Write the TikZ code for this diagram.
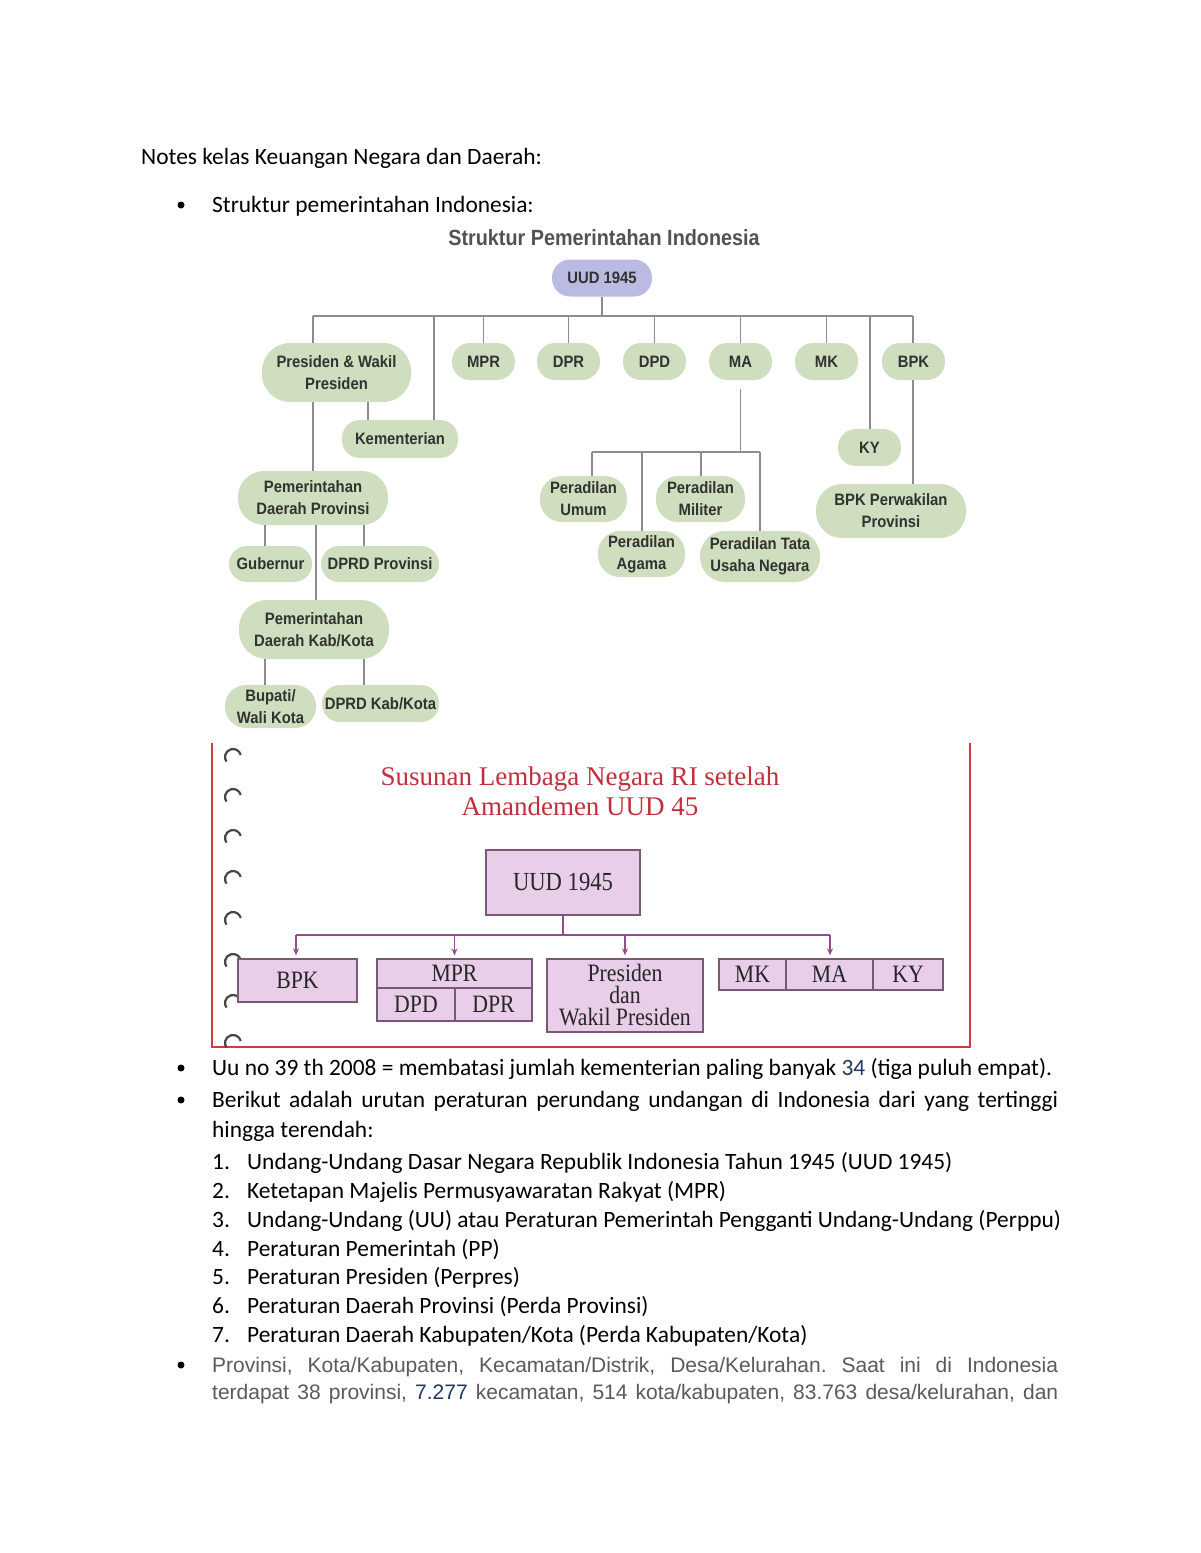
\documentclass[tikz,border=0pt]{standalone}
\usepackage{fontspec}
\usetikzlibrary{arrows.meta}
\setmainfont{Carlito}
\newfontfamily\rob[FakeStretch=0.9]{Liberation Sans}
\newfontfamily\ari{Liberation Sans}
\newfontfamily\tms{Liberation Serif}
\newfontfamily\tmsc[FakeStretch=0.87]{Liberation Serif}
\frenchspacing
\definecolor{gfill}{RGB}{207,222,190}
\definecolor{gtext}{RGB}{50,50,50}
\definecolor{lav}{RGB}{187,186,226}
\definecolor{lineg}{RGB}{140,140,140}
\definecolor{pfill}{RGB}{232,206,232}
\definecolor{pborder}{RGB}{120,90,120}
\definecolor{parrow}{RGB}{140,80,140}
\definecolor{redtitle}{RGB}{192,48,60}
\definecolor{framered}{RGB}{210,60,60}
\definecolor{graytext}{RGB}{90,90,90}
\definecolor{numblue}{RGB}{31,56,100}
\definecolor{ringc}{RGB}{70,70,70}
\tikzset{
  body/.style={anchor=base west, inner sep=0pt, font=\fontsize{23.4}{29}\selectfont},
  grayb/.style={anchor=base west, inner sep=0pt, text=graytext, font=\ari\fontsize{21}{27}\selectfont},
  bul/.style={circle, fill=black, inner sep=0pt, minimum size=7},
  gn/.style={rectangle, fill=gfill, text=gtext, align=center, inner sep=0pt,
    font=\rob\bfseries\fontsize{16.5}{22}\selectfont, rounded corners=18},
  conn/.style={draw=lineg, line width=1.4},
  pbox/.style={rectangle, draw=pborder, fill=pfill, line width=1.3, inner sep=0pt,
    align=center, text=black!85, font=\tmsc\fontsize{25}{22}\selectfont},
  pline/.style={draw=parrow, line width=1.4},
  parr/.style={draw=parrow, line width=1.4, -{Stealth[length=7,width=6]}, shorten >=3},
  ring/.style={draw=ringc, line width=2.2},
}
\begin{document}
\begin{tikzpicture}[x=1pt,y=-1pt]
\useasboundingbox (0,0) rectangle (1200,1553);
\fill[white] (0,0) rectangle (1200,1553);

% ---------- heading text ----------
\node[body] (t1) at (141,164) {Notes kelas Keuangan Negara dan Daerah:};
\node[bul] (b1) at (181,205) {};
\node[body] (t2) at (212,212) {Struktur pemerintahan Indonesia:};

% ---------- diagram 1 ----------
\node[inner sep=0pt, text=black!68, font=\rob\bfseries\fontsize{22}{26}\selectfont] (ttl1) at (604,238) {Struktur Pemerintahan Indonesia};

\node[gn, fill=lav, minimum width=100, minimum height=37] (uud) at (602,278) {UUD 1945};
\node[gn, minimum width=149, minimum height=59, rounded corners=28] (pres) at (336.5,372.5) {Presiden \& Wakil\\Presiden};
\node[gn, minimum width=63, minimum height=37] (mpr) at (483.5,361.5) {MPR};
\node[gn, minimum width=63, minimum height=37] (dpr) at (568.5,361.5) {DPR};
\node[gn, minimum width=63, minimum height=37] (dpd) at (654.5,361.5) {DPD};
\node[gn, minimum width=63, minimum height=37] (ma) at (740.5,361.5) {MA};
\node[gn, minimum width=63, minimum height=37] (mk) at (826.5,361.5) {MK};
\node[gn, minimum width=63, minimum height=37] (bpk) at (913.5,361.5) {BPK};
\node[gn, minimum width=116, minimum height=38] (kem) at (400,439) {Kementerian};
\node[gn, minimum width=150, minimum height=54, rounded corners=26] (pdp) at (313,498) {Pemerintahan\\Daerah Provinsi};
\node[gn, minimum width=83, minimum height=36] (gub) at (270.5,564) {Gubernur};
\node[gn, minimum width=118, minimum height=36] (dprdp) at (380,564) {DPRD Provinsi};
\node[gn, minimum width=150, minimum height=59, rounded corners=28] (pdk) at (314,629.5) {Pemerintahan\\Daerah Kab/Kota};
\node[gn, minimum width=91, minimum height=43, rounded corners=21] (bup) at (270.5,706.5) {Bupati/\\Wali Kota};
\node[gn, minimum width=117, minimum height=37] (dprdk) at (380.5,703.5) {DPRD Kab/Kota};
\node[gn, minimum width=87, minimum height=46, rounded corners=22] (pu) at (583.5,499) {Peradilan\\Umum};
\node[gn, minimum width=89, minimum height=46, rounded corners=22] (pm) at (700.5,499) {Peradilan\\Militer};
\node[gn, minimum width=87, minimum height=46, rounded corners=22] (pa) at (641.5,554) {Peradilan\\Agama};
\node[gn, minimum width=120, minimum height=51, rounded corners=25] (ptun) at (760,556.5) {Peradilan Tata\\Usaha Negara};
\node[gn, minimum width=63, minimum height=37] (ky) at (869.5,447.5) {KY};
\node[gn, minimum width=150, minimum height=54, rounded corners=26] (bpkp) at (891,511) {BPK Perwakilan\\Provinsi};

\coordinate (hL) at (313,316);
\coordinate (hR) at (913,316);
\coordinate (hK) at (434,316);
\coordinate (hY) at (870,316);
\coordinate (mL) at (592,452);
\coordinate (mR) at (760,452);
\coordinate (mA) at (642,452);
\coordinate (mM) at (701,452);

\draw[conn] (uud.south) -- (uud.south |- hL);
\draw[conn] (hL) -- (hR);
\draw[conn] (hL) -- (hL |- pres.north);
\draw[conn] (hK) -- (hK |- kem.north);
\draw[conn] (mpr.north |- hL) -- (mpr.north);
\draw[conn] (dpr.north |- hL) -- (dpr.north);
\draw[conn] (dpd.north |- hL) -- (dpd.north);
\draw[conn] (ma.north |- hL) -- (ma.north);
\draw[conn] (mk.north |- hL) -- (mk.north);
\draw[conn] (hR) -- (hR |- bpk.north);
\draw[conn] (hY) -- (hY |- ky.north);
\draw[conn] (bpk.south -| hR) -- (hR |- bpkp.north);
\draw[conn] (368,0 |- pres.south) -- (368,0 |- kem.north);
\draw[conn] (hL |- pres.south) -- (hL |- pdp.north);
\draw[conn] (265,0 |- pdp.south) -- (265,0 |- gub.north);
\draw[conn] (364,0 |- pdp.south) -- (364,0 |- dprdp.north);
\draw[conn] (316,0 |- pdp.south) -- (316,0 |- pdk.north);
\draw[conn] (265,0 |- pdk.south) -- (265,0 |- bup.north);
\draw[conn] (364,0 |- pdk.south) -- (364,0 |- dprdk.north);
\draw[conn] ([yshift=-9]ma.south) -- (ma.south |- mL);
\draw[conn] (mL) -- (mR);
\draw[conn] (mL) -- (mL |- pu.north);
\draw[conn] (mA) -- (mA |- pa.north);
\draw[conn] (mM) -- (mM |- pm.north);
\draw[conn] (mR) -- (mR |- ptun.north);

% ---------- diagram 2 ----------
\draw[framered, line width=1.5] (212,743) -- (212,1047) -- (970,1047) -- (970,743);
\foreach \yy in {757,797,838,879,920,962,1003,1043}{
  \draw[ring] ([shift={(-15:8)}]233,\yy) arc[start angle=-15, end angle=-215, radius=8];
}
\node[inner sep=0pt, text=redtitle, font=\tms\fontsize{27}{30}\selectfont, align=center] (ttl2) at (580,791) {Susunan Lembaga Negara RI setelah\\Amandemen UUD 45};

\node[pbox, minimum width=154, minimum height=65, font=\tmsc\fontsize{26}{22}\selectfont] (uud2) at (563,882.5) {UUD 1945};
\node[pbox, minimum width=119, minimum height=43] (bpk2) at (297.5,980.5) {BPK};
\node[pbox, minimum width=155, minimum height=29] (mpr2) at (454.5,973.5) {MPR};
\node[pbox, minimum width=78, minimum height=33] (dpd2) at (416,1004.5) {DPD};
\node[pbox, minimum width=77, minimum height=33] (dpr2) at (493.5,1004.5) {DPR};
\node[pbox, minimum width=156, minimum height=73] (pres2) at (625,995.5) {Presiden\\dan\\Wakil Presiden};
\node[pbox, minimum width=67, minimum height=31] (mk2) at (752.5,974.5) {MK};
\node[pbox, minimum width=87, minimum height=31] (ma2) at (829.5,974.5) {MA};
\node[pbox, minimum width=70, minimum height=31] (ky2) at (908,974.5) {KY};

\coordinate (pL) at (296,935);
\coordinate (pR) at (830,935);
\draw[pline] (uud2.south) -- (uud2.south |- pL);
\draw[pline] (pL) -- (pR);
\draw[parr] (pL) -- (pL |- bpk2.north);
\draw[parr] (mpr2.north |- pL) -- (mpr2.north);
\draw[parr] (pres2.north |- pL) -- (pres2.north);
\draw[parr] (pR) -- (pR |- ma2.north);

% ---------- text below ----------
\node[bul] (b2) at (181,1068) {};
\node[body] (t3) at (212,1075) {Uu no 39 th 2008 = membatasi jumlah kementerian paling banyak {\color{numblue}34} (tiga puluh empat).};
\node[bul] (b3) at (181,1100) {};
\node[body] (t4) at (212,1107) {\makebox[846pt][s]{Berikut adalah urutan peraturan perundang undangan di Indonesia dari yang tertinggi}};
\node[body] (t5) at (212,1137) {hingga terendah:};

\node[body] (n1) at (212,1169) {1.};
\node[body] (l1) at (247,1169) {Undang-Undang Dasar Negara Republik Indonesia Tahun 1945 (UUD 1945)};
\node[body] (n2) at (212,1198) {2.};
\node[body] (l2) at (247,1198) {Ketetapan Majelis Permusyawaratan Rakyat (MPR)};
\node[body] (n3) at (212,1227) {3.};
\node[body] (l3) at (247,1227) {Undang-Undang (UU) atau Peraturan Pemerintah Pengganti Undang-Undang (Perppu)};
\node[body] (n4) at (212,1256) {4.};
\node[body] (l4) at (247,1256) {Peraturan Pemerintah (PP)};
\node[body] (n5) at (212,1284) {5.};
\node[body] (l5) at (247,1284) {Peraturan Presiden (Perpres)};
\node[body] (n6) at (212,1313) {6.};
\node[body] (l6) at (247,1313) {Peraturan Daerah Provinsi (Perda Provinsi)};
\node[body] (n7) at (212,1342) {7.};
\node[body] (l7) at (247,1342) {Peraturan Daerah Kabupaten/Kota (Perda Kabupaten/Kota)};

\node[bul] (b4) at (181,1365) {};
\node[grayb] (g1) at (212,1372) {\makebox[846pt][s]{Provinsi, Kota/Kabupaten, Kecamatan/Distrik, Desa/Kelurahan. Saat ini di Indonesia}};
\node[grayb] (g2) at (212,1399) {\makebox[846pt][s]{terdapat 38 provinsi, {\color{numblue}7.277} kecamatan, 514 kota/kabupaten, 83.763 desa/kelurahan, dan}};
\end{tikzpicture}
\end{document}
